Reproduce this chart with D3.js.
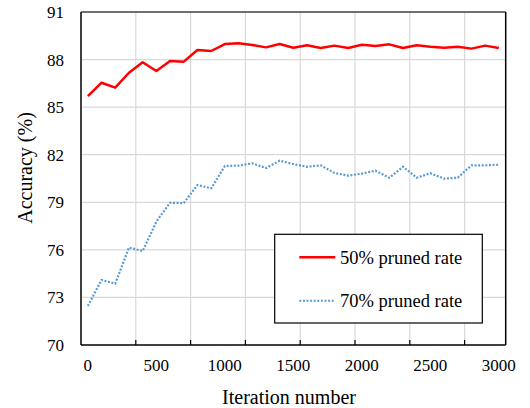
<!DOCTYPE html>
<html>
<head>
<meta charset="utf-8">
<script src="https://cdnjs.cloudflare.com/ajax/libs/d3/7.8.5/d3.min.js"></script>
<style>
  body { margin: 0; background: #fff; }
</style>
</head>
<body>
<div id="chart"></div>
<script>
// iteration categories (every 100 iterations)
var iterations = [0,100,200,300,400,500,600,700,800,900,1000,1100,1200,1300,1400,1500,
                  1600,1700,1800,1900,2000,2100,2200,2300,2400,2500,2600,2700,2800,2900,3000];
var rate50 = [85.70,86.54,86.23,87.17,87.83,87.28,87.91,87.87,88.60,88.54,88.98,89.03,88.92,88.77,88.98,88.75,
              88.90,88.73,88.88,88.73,88.93,88.86,88.96,88.73,88.90,88.81,88.75,88.81,88.69,88.88,88.73];
var rate70 = [72.46,74.10,73.87,76.14,75.93,77.78,78.97,78.95,80.09,79.88,81.29,81.31,81.46,81.16,81.62,81.41,
              81.24,81.33,80.85,80.68,80.81,80.99,80.55,81.24,80.55,80.83,80.49,80.55,81.33,81.33,81.37];
var xLabels = [0,500,1000,1500,2000,2500,3000];
var gridX = [350,750,1150,1550,1950,2350,2750];   // category boundaries, every 4 points
var yTicks = [70,73,76,79,82,85,88,91];
var seriesNames = ["50% pruned rate", "70% pruned rate"];

var w = 530, h = 408;
var pLeft = 81, pRight = 505.7, pTop = 12, pBottom = 345;
var serif = "'Liberation Serif', 'Times New Roman', 'DejaVu Serif', serif";

var svg = d3.select("#chart").append("svg").attr("width", w).attr("height", h)
  .attr("font-family", serif);

var x = d3.scaleLinear().domain([-50, 3050]).range([pLeft, pRight]);
var y = d3.scaleLinear().domain([70, 91]).range([pBottom, pTop]);

// grid
svg.append("g").selectAll("line").data(gridX).enter().append("line")
  .attr("x1", function(d){ return x(d); }).attr("x2", function(d){ return x(d); })
  .attr("y1", pTop).attr("y2", pBottom)
  .attr("stroke", "#d9d9d9").attr("stroke-width", 1.2);
svg.append("g").selectAll("line").data(yTicks.slice(1, -1)).enter().append("line")
  .attr("x1", pLeft).attr("x2", pRight)
  .attr("y1", function(d){ return y(d); }).attr("y2", function(d){ return y(d); })
  .attr("stroke", "#d9d9d9").attr("stroke-width", 1.2);

// inner tick marks on the bottom axis
svg.append("g").selectAll("line").data(gridX).enter().append("line")
  .attr("x1", function(d){ return x(d); }).attr("x2", function(d){ return x(d); })
  .attr("y1", pBottom).attr("y2", pBottom - 5)
  .attr("stroke", "#000").attr("stroke-width", 1.2);

// lines
var lineGen = d3.line().x(function(d, i){ return x(iterations[i]); }).y(function(d){ return y(d); });
svg.append("path").datum(rate70).attr("d", lineGen)
  .attr("fill", "none").attr("stroke", "#5b9bd5").attr("stroke-width", 2.2)
  .attr("stroke-dasharray", "2,1.6");
svg.append("path").datum(rate50).attr("d", lineGen)
  .attr("fill", "none").attr("stroke", "#ff0000").attr("stroke-width", 2.5)
  .attr("stroke-linejoin", "round");

// frame
svg.append("line").attr("x1", pLeft).attr("x2", pRight).attr("y1", pTop).attr("y2", pTop)
  .attr("stroke", "#404040").attr("stroke-width", 1.3);
svg.append("line").attr("x1", pRight).attr("x2", pRight).attr("y1", pTop).attr("y2", pBottom)
  .attr("stroke", "#000").attr("stroke-width", 1.5);
svg.append("line").attr("x1", pLeft).attr("x2", pLeft).attr("y1", pTop).attr("y2", pBottom)
  .attr("stroke", "#000").attr("stroke-width", 1.5);
svg.append("line").attr("x1", pLeft).attr("x2", pRight).attr("y1", pBottom).attr("y2", pBottom)
  .attr("stroke", "#000").attr("stroke-width", 1.5);

// tick labels
svg.append("g").selectAll("text").data(yTicks).enter().append("text")
  .attr("x", 64).attr("y", function(d){ return y(d); })
  .attr("dy", "0.35em").attr("text-anchor", "end")
  .style("font-family", serif).style("font-size", "17px").text(function(d){ return d; });
svg.append("g").selectAll("text").data(xLabels).enter().append("text")
  .attr("x", function(d){ return x(d); }).attr("y", 370.5)
  .attr("text-anchor", "middle")
  .style("font-family", serif).style("font-size", "17px").text(function(d){ return d; });

// axis titles
svg.append("text").attr("x", 289).attr("y", 404).attr("text-anchor", "middle")
  .style("font-family", serif).style("font-size", "20px").text("Iteration number");
svg.append("text").attr("transform", "translate(32,168) rotate(-90)")
  .attr("text-anchor", "middle")
  .style("font-family", serif).style("font-size", "20px").text("Accuracy (%)");

// legend
var lg = svg.append("g");
lg.append("rect").attr("x", 274.7).attr("y", 234.3).attr("width", 207.6).attr("height", 88.7)
  .attr("fill", "#fff").attr("stroke", "#000").attr("stroke-width", 1.2);
lg.append("line").attr("x1", 299.3).attr("x2", 335.3).attr("y1", 257.3).attr("y2", 257.3)
  .attr("stroke", "#ff0000").attr("stroke-width", 2.5);
lg.append("line").attr("x1", 299.3).attr("x2", 335.3).attr("y1", 300.7).attr("y2", 300.7)
  .attr("stroke", "#5b9bd5").attr("stroke-width", 2).attr("stroke-dasharray", "2,1.6");
lg.append("text").attr("x", 340).attr("y", 257.3).attr("dy", "0.35em")
  .style("font-family", serif).style("font-size", "18.5px").text(seriesNames[0]);
lg.append("text").attr("x", 340).attr("y", 300.7).attr("dy", "0.35em")
  .style("font-family", serif).style("font-size", "18.5px").text(seriesNames[1]);
</script>
</body>
</html>
